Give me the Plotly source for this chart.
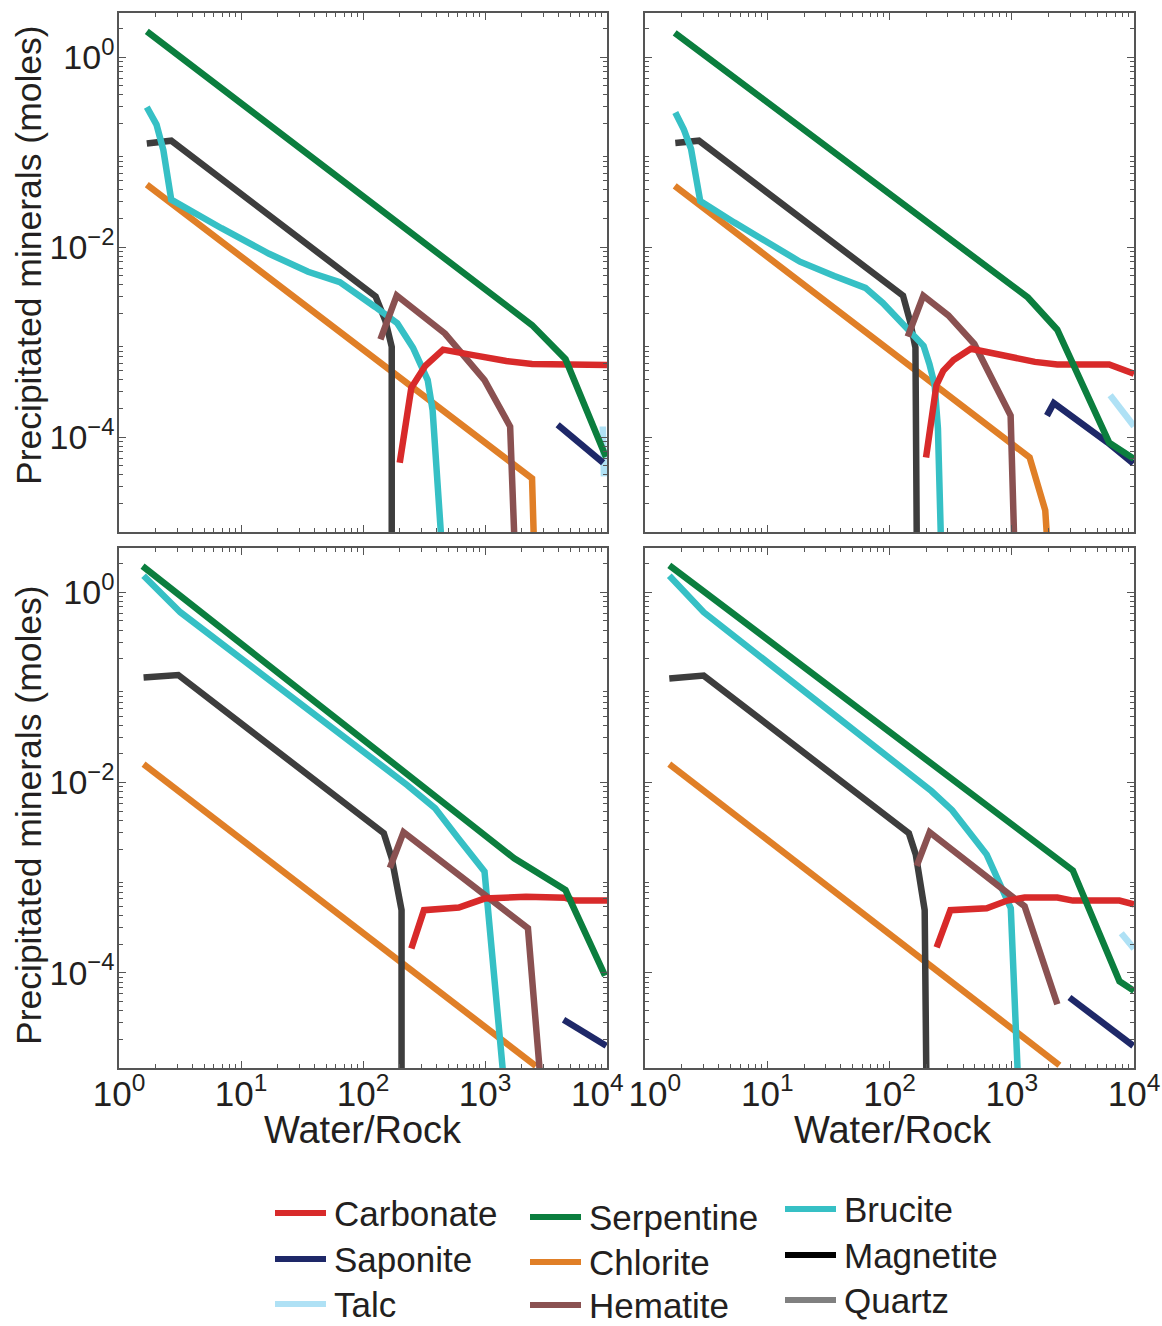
import plotly.graph_objects as go

# ---------------- data (Water/Rock, precipitated moles) ----------------
# Top-left panel
TL_CARBONATE_X = [200, 249, 324, 453, 822, 1493, 2430, 4570, 10000]
TL_CARBONATE_Y = [5.37e-5, 3.31e-4, 5.62e-4, 8.32e-4, 7.24e-4, 6.31e-4, 5.89e-4, 5.89e-4, 5.75e-4]
TL_SAPONITE_X = [3940, 9290]
TL_SAPONITE_Y = [1.35e-4, 5.37e-5]
TL_TALC_X = [9230, 9440]
TL_TALC_Y = [1.29e-4, 3.85e-5]
TL_SERPENTINE_X = [1.69, 2430, 4570, 9800]
TL_SERPENTINE_Y = [1.87, 1.51e-3, 6.61e-4, 6.17e-5]
TL_CHLORITE_X = [1.69, 2430, 2510]
TL_CHLORITE_Y = [0.0455, 3.66e-5, 8.9e-6]
TL_HEMATITE_X = [139, 189, 470, 991, 1607, 1738]
TL_HEMATITE_Y = [1.07e-3, 3.09e-3, 1.23e-3, 3.98e-4, 1.29e-4, 8.9e-6]
TL_BRUCITE_X = [1.69, 2.03, 2.31, 2.54, 2.68, 6.92, 17.0, 35.5, 64.6, 126, 191, 257, 339, 372, 417, 437]
TL_BRUCITE_Y = [0.298, 0.195, 0.105, 0.0525, 0.0316, 0.0158, 8.51e-3, 5.50e-3, 4.27e-3, 2.34e-3,
                1.58e-3, 8.71e-4, 3.98e-4, 1.91e-4, 2.82e-5, 8.9e-6]
TL_MAGNETITE_X = [1.69, 2.68, 127, 153, 172, 172]
TL_MAGNETITE_Y = [0.123, 0.132, 3.02e-3, 1.66e-3, 8.91e-4, 8.9e-6]

# Top-right panel
TR_CARBONATE_X = [199, 242, 275, 334, 463, 918, 1545, 2355, 6266, 10000]
TR_CARBONATE_Y = [6.1e-5, 3.52e-4, 4.98e-4, 6.46e-4, 8.51e-4, 7.03e-4, 6.18e-4, 5.82e-4, 5.82e-4, 4.65e-4]
TR_SAPONITE_X = [1941, 2208, 6053, 9863]
TR_SAPONITE_Y = [1.68e-4, 2.28e-4, 8.79e-5, 5.25e-5]
TR_TALC_X = [6383, 10000]
TR_TALC_Y = [2.76e-4, 1.30e-4]
TR_SERPENTINE_X = [1.75, 1355, 2355, 6266, 10000]
TR_SERPENTINE_Y = [1.80, 2.95e-3, 1.35e-3, 8.71e-5, 5.89e-5]
TR_CHLORITE_X = [1.75, 1400, 1879, 1941]
TR_CHLORITE_Y = [0.0441, 6.1e-5, 1.69e-5, 8.9e-6]
TR_HEMATITE_X = [141, 189, 303, 494, 979, 1045]
TR_HEMATITE_Y = [1.14e-3, 3.08e-3, 1.91e-3, 9.55e-4, 1.68e-4, 8.9e-6]
TR_BRUCITE_X = [1.77, 2.08, 2.38, 2.62, 2.83, 5.36, 10.3, 18.5, 35.4, 63.5, 88.1, 130, 190, 212, 234, 249, 263]
TR_BRUCITE_Y = [0.261, 0.173, 0.108, 0.0589, 0.0306, 0.0182, 0.0108, 7.02e-3, 4.95e-3, 3.72e-3,
                2.58e-3, 1.55e-3, 9.12e-4, 5.89e-4, 3.55e-4, 1.23e-4, 8.9e-6]
TR_MAGNETITE_X = [1.77, 2.76, 129, 147, 163, 167]
TR_MAGNETITE_Y = [0.125, 0.132, 3.08e-3, 1.67e-3, 8.75e-4, 8.9e-6]

# Bottom-left panel
BL_CARBONATE_X = [249, 316, 610, 991, 2168, 4570, 5309, 10000]
BL_CARBONATE_Y = [1.80e-4, 4.56e-4, 4.86e-4, 6.03e-4, 6.31e-4, 6.14e-4, 5.75e-4, 5.75e-4]
BL_SAPONITE_X = [4406, 9863]
BL_SAPONITE_Y = [3.21e-5, 1.71e-5]
BL_SERPENTINE_X = [1.56, 1734, 4570, 9638]
BL_SERPENTINE_Y = [1.88, 1.60e-3, 7.41e-4, 9.33e-5]
BL_CHLORITE_X = [1.59, 2612]
BL_CHLORITE_Y = [0.0156, 1.05e-5]
BL_HEMATITE_X = [166, 215, 2249, 2818]
BL_HEMATITE_Y = [1.27e-3, 3.01e-3, 2.94e-4, 8.9e-6]
BL_BRUCITE_X = [1.59, 3.18, 231, 390, 610, 991, 1406]
BL_BRUCITE_Y = [1.49, 0.617, 9.38e-3, 5.37e-3, 2.55e-3, 1.16e-3, 8.9e-6]
BL_MAGNETITE_X = [1.59, 3.06, 148, 172, 207, 207]
BL_MAGNETITE_Y = [0.127, 0.135, 2.93e-3, 1.60e-3, 4.56e-4, 8.9e-6]

# Bottom-right panel
BR_CARBONATE_X = [243, 315, 624, 920, 1274, 2360, 3162, 7603, 10000]
BR_CARBONATE_Y = [1.85e-4, 4.56e-4, 4.78e-4, 5.75e-4, 6.19e-4, 6.19e-4, 5.75e-4, 5.75e-4, 5.25e-4]
BR_SAPONITE_X = [2965, 9863]
BR_SAPONITE_Y = [5.51e-5, 1.71e-5]
BR_TALC_X = [7870, 10000]
BR_TALC_Y = [2.61e-4, 1.80e-4]
BR_SERPENTINE_X = [1.58, 920, 2360, 3162, 7603, 10000]
BR_SERPENTINE_Y = [1.92, 3.87e-3, 1.60e-3, 1.19e-3, 8.15e-5, 6.46e-5]
BR_CHLORITE_X = [1.58, 2455]
BR_CHLORITE_Y = [0.0156, 1.07e-5]
BR_HEMATITE_X = [167, 213, 1274, 2360]
BR_HEMATITE_Y = [1.33e-3, 3.01e-3, 5.01e-4, 4.67e-5]
BR_BRUCITE_X = [1.58, 3.02, 220, 325, 624, 863, 982, 1119]
BR_BRUCITE_Y = [1.49, 0.617, 8.15e-3, 5.12e-3, 1.75e-3, 7.26e-4, 4.78e-4, 8.9e-6]
BR_MAGNETITE_X = [1.58, 3.02, 144, 164, 194, 200]
BR_MAGNETITE_Y = [0.124, 0.133, 2.93e-3, 1.75e-3, 4.56e-4, 8.9e-6]

MINERALS = ["Carbonate", "Saponite", "Talc", "Serpentine", "Chlorite", "Hematite",
            "Brucite", "Magnetite", "Quartz"]
LINE_COLORS = {"Carbonate": "#d82a2a", "Saponite": "#1e2868", "Talc": "#afe1f5",
               "Serpentine": "#0b7e3e", "Chlorite": "#e07f27", "Hematite": "#8a5151",
               "Brucite": "#36c0c5", "Magnetite": "#3d3d3d", "Quartz": "#808080"}
LEGEND_COLORS = dict(LINE_COLORS, Magnetite="#000000")

NB = "\u00a0"
X_TICKS = [1, 10, 100, 1000, 10000]
X_TICKTEXT_LEFT = ["10<sup>0</sup>", "10<sup>1</sup>", "10<sup>2</sup>", "10<sup>3</sup>",
                   "10<sup>4</sup>" + NB * 2]
X_TICKTEXT_RIGHT = [NB * 2 + "10<sup>0</sup>", "10<sup>1</sup>", "10<sup>2</sup>", "10<sup>3</sup>",
                    "10<sup>4</sup>"]
Y_TICKS = [1e-4, 1e-2, 1]
Y_TICKTEXT = ["10<sup>−4</sup>", "10<sup>−2</sup>", "10<sup>0</sup>"]
Y_UNLABELLED_TICKS = [1e-5, 1e-3, 1e-1]

# ---------------- figure ----------------
W, H = 1162, 1326
FONT = "Liberation Sans, Arial, sans-serif"
TXT = "#231f20"
AX = "#555555"

panels = [
    dict(series={
        "Talc": (TL_TALC_X, TL_TALC_Y), "Saponite": (TL_SAPONITE_X, TL_SAPONITE_Y),
        "Chlorite": (TL_CHLORITE_X, TL_CHLORITE_Y), "Magnetite": (TL_MAGNETITE_X, TL_MAGNETITE_Y),
        "Brucite": (TL_BRUCITE_X, TL_BRUCITE_Y), "Hematite": (TL_HEMATITE_X, TL_HEMATITE_Y),
        "Carbonate": (TL_CARBONATE_X, TL_CARBONATE_Y), "Serpentine": (TL_SERPENTINE_X, TL_SERPENTINE_Y)}),
    dict(series={
        "Talc": (TR_TALC_X, TR_TALC_Y), "Saponite": (TR_SAPONITE_X, TR_SAPONITE_Y),
        "Chlorite": (TR_CHLORITE_X, TR_CHLORITE_Y), "Magnetite": (TR_MAGNETITE_X, TR_MAGNETITE_Y),
        "Brucite": (TR_BRUCITE_X, TR_BRUCITE_Y), "Hematite": (TR_HEMATITE_X, TR_HEMATITE_Y),
        "Carbonate": (TR_CARBONATE_X, TR_CARBONATE_Y), "Serpentine": (TR_SERPENTINE_X, TR_SERPENTINE_Y)}),
    dict(series={
        "Saponite": (BL_SAPONITE_X, BL_SAPONITE_Y),
        "Chlorite": (BL_CHLORITE_X, BL_CHLORITE_Y), "Magnetite": (BL_MAGNETITE_X, BL_MAGNETITE_Y),
        "Brucite": (BL_BRUCITE_X, BL_BRUCITE_Y), "Hematite": (BL_HEMATITE_X, BL_HEMATITE_Y),
        "Carbonate": (BL_CARBONATE_X, BL_CARBONATE_Y), "Serpentine": (BL_SERPENTINE_X, BL_SERPENTINE_Y)}),
    dict(series={
        "Talc": (BR_TALC_X, BR_TALC_Y), "Saponite": (BR_SAPONITE_X, BR_SAPONITE_Y),
        "Chlorite": (BR_CHLORITE_X, BR_CHLORITE_Y), "Magnetite": (BR_MAGNETITE_X, BR_MAGNETITE_Y),
        "Brucite": (BR_BRUCITE_X, BR_BRUCITE_Y), "Hematite": (BR_HEMATITE_X, BR_HEMATITE_Y),
        "Carbonate": (BR_CARBONATE_X, BR_CARBONATE_Y), "Serpentine": (BR_SERPENTINE_X, BR_SERPENTINE_Y)}),
]


def px(x):
    return x / W


def py(y):
    return 1 - y / H


COLS = [(119, 607), (645, 1134)]
ROWS = [(13, 532), (548, 1068)]
Y_RANGE = [-5, 0.465]
X_RANGE = [0, 4]

x_minor = [m * 10 ** k for k in range(0, 4) for m in range(2, 10)]
y_minor = [m * 10.0 ** k for k in range(-5, 1) for m in range(2, 10)]

axis_common = dict(type="log", showline=True, linecolor=AX, linewidth=1.5, mirror="ticks",
                   ticks="inside", ticklen=7, tickwidth=1, tickcolor=AX, showgrid=False,
                   zeroline=False, automargin=False, ticklabeloverflow="allow")

layout = dict(width=W, height=H, margin=dict(l=0, r=0, t=0, b=0, autoexpand=False),
              paper_bgcolor="white", plot_bgcolor="white", showlegend=False)

fig = go.Figure()
idx = 0
for r, (ytop, ybot) in enumerate(ROWS):
    for c, (xl, xr) in enumerate(COLS):
        p = panels[idx]
        idx += 1
        sx = "" if idx == 1 else str(idx)
        for name, (xs, ys) in p["series"].items():
            fig.add_trace(go.Scatter(x=xs, y=ys, mode="lines", name=name, showlegend=False,
                                     line=dict(color=LINE_COLORS[name], width=6.5),
                                     xaxis="x" + sx, yaxis="y" + sx, hoverinfo="skip"))
        xa = dict(axis_common, domain=[px(xl), px(xr)], range=X_RANGE, anchor="y" + sx,
                  tickmode="array", tickvals=X_TICKS, ticklabelstandoff=-6,
                  tickfont=dict(family=FONT, size=35, color=TXT),
                  minor=dict(ticks="inside", ticklen=4, tickcolor=AX, tickmode="array",
                             tickvals=x_minor, showgrid=False))
        if r == 1:
            xa.update(ticktext=X_TICKTEXT_LEFT if c == 0 else X_TICKTEXT_RIGHT,
                      showticklabels=True)
        else:
            xa.update(showticklabels=False)
        layout["xaxis" + sx] = xa
        ya = dict(axis_common, domain=[py(ybot), py(ytop)], range=Y_RANGE, anchor="x" + sx,
                  tickmode="array", tickvals=Y_TICKS, ticklabelstandoff=-4,
                  tickfont=dict(family=FONT, size=34, color=TXT),
                  minor=dict(ticks="inside", ticklen=4, tickcolor=AX, tickmode="array",
                             tickvals=y_minor, showgrid=False))
        if c == 0:
            ya.update(ticktext=Y_TICKTEXT, showticklabels=True)
        else:
            ya.update(showticklabels=False)
        layout["yaxis" + sx] = ya
        # overlay axis carrying the unlabelled decade ticks
        ov = str(idx + 4)
        layout["yaxis" + ov] = dict(type="log", range=Y_RANGE, domain=[py(ybot), py(ytop)],
                                    overlaying="y" + sx, anchor="x" + sx, showline=False,
                                    mirror="ticks", ticks="inside", ticklen=7, tickwidth=1,
                                    tickcolor=AX, showgrid=False, zeroline=False,
                                    automargin=False, tickmode="array",
                                    tickvals=Y_UNLABELLED_TICKS, showticklabels=False)

annotations = []
for yc in (255, 815):
    annotations.append(dict(text="Precipitated minerals (moles)", x=px(29), y=py(yc), xref="paper",
                            yref="paper", xanchor="center", yanchor="middle", showarrow=False,
                            textangle=-90, font=dict(family=FONT, size=35.5, color=TXT)))
for xc in (363, 893):
    annotations.append(dict(text="Water/Rock", x=px(xc), y=py(1130), xref="paper", yref="paper",
                            xanchor="center", yanchor="middle", showarrow=False,
                            font=dict(family=FONT, size=38, color=TXT)))

LEGEND_COLS = [
    (275, [("Carbonate", 1213), ("Saponite", 1259), ("Talc", 1304)]),
    (530, [("Serpentine", 1217), ("Chlorite", 1262), ("Hematite", 1305)]),
    (785, [("Brucite", 1209), ("Magnetite", 1255), ("Quartz", 1300)]),
]
shapes = []
for x0, items in LEGEND_COLS:
    for name, yy in items:
        shapes.append(dict(type="line", xref="paper", yref="paper", x0=px(x0), x1=px(x0 + 51),
                           y0=py(yy), y1=py(yy), line=dict(color=LEGEND_COLORS[name], width=6)))
        annotations.append(dict(text=name, x=px(x0 + 57), y=py(yy), xref="paper", yref="paper",
                                xanchor="left", yanchor="middle", showarrow=False,
                                font=dict(family=FONT, size=35, color=TXT)))

layout["annotations"] = annotations
layout["shapes"] = shapes
fig.update_layout(**layout)
fig.write_html("out.html")
